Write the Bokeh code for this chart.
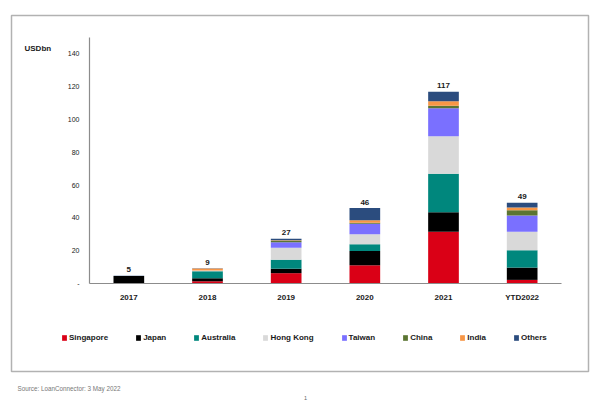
from bokeh.core.properties import value
from bokeh.embed import file_html
from bokeh.models import (BoxAnnotation, ColumnDataSource, FixedTicker, Label, Legend,
                          LegendItem, Range1d)
from bokeh.plotting import figure
from bokeh.resources import INLINE

FONT = "Liberation Sans"
INK = "#1a1a1a"
W, H = 599, 400

# loan volumes by borrower country, USD bn
years = ["2017", "2018", "2019", "2020", "2021", "YTD2022"]
singapore = [0.0, 1.4, 6.3, 11.1, 31.6, 2.2]
japan = [4.5, 1.8, 2.7, 8.7, 11.8, 7.5]
australia = [0.0, 4.2, 5.5, 4.1, 23.5, 10.5]
hong_kong = [0.0, 0.6, 7.3, 6.1, 22.9, 11.4]
taiwan = [0.0, 0.0, 3.4, 6.5, 17.0, 9.9]
china = [0.0, 0.0, 0.8, 0.5, 1.6, 3.2]
india = [0.0, 1.2, 0.4, 1.5, 2.8, 1.6]
others = [0.2, 0.1, 0.9, 7.5, 5.7, 2.9]
totals = [5, 9, 27, 46, 117, 49]
y_ticks = [0, 20, 40, 60, 80, 100, 120, 140]
y_max = 150

series = ["Singapore", "Japan", "Australia", "Hong Kong", "Taiwan", "China", "India", "Others"]
values = [singapore, japan, australia, hong_kong, taiwan, china, india, others]
colors = ["#DA0016", "#000000", "#00877D", "#D9D9D9", "#7A70FF", "#5B7532", "#F79646", "#2B4C7E"]

# one slot per year; the plotting area inside the page (pixels)
pos = [i + 0.5 for i in range(len(years))]
area_left, area_right, area_top, area_bottom = 89, 561, 37, 283
x_px = (area_right - area_left) / len(years)
y_px = (area_bottom - area_top) / y_max

data = {"x": pos, "year": years}
data.update(dict(zip(series, values)))
source = ColumnDataSource(data)

# the frame fills the whole page; axes are pinned inside it
p = figure(x_range=Range1d(-area_left / x_px, len(years) + (W - area_right) / x_px),
           y_range=Range1d(-(H - area_bottom) / y_px, y_max + area_top / y_px),
           width=W, height=H, output_backend="svg", toolbar_location=None, min_border=0)
p.outline_line_color = None
p.grid.visible = False

bars = p.vbar_stack(series, x="x", width=0.39, fill_color=colors, line_color=None, source=source)

tops = [sum(col) for col in zip(*values)]
p.text(x=pos, y=tops, text=[str(t) for t in totals], text_align="center",
       text_baseline="alphabetic", y_offset=-6, text_font=value(FONT),
       text_font_size="8px", text_font_style="bold", text_color=INK)

for ax in (p.xaxis[0], p.yaxis[0]):
    ax.fixed_location = 0
    ax.axis_line_color = "#8c8c8c"
    ax.axis_line_width = 1.2
    ax.major_tick_line_color = None
    ax.minor_tick_line_color = None
    ax.major_tick_out = 0
    ax.major_label_text_font = FONT
    ax.major_label_text_color = INK

p.yaxis.bounds = (0, y_max)
p.yaxis.ticker = FixedTicker(ticks=y_ticks)
p.yaxis.major_label_overrides = {0: "-"}
p.yaxis.major_label_text_font_size = "7px"
p.yaxis.major_label_standoff = 10

p.xaxis.bounds = (0, len(years))
p.xaxis.ticker = FixedTicker(ticks=pos)
p.xaxis.major_label_overrides = dict(zip(pos, years))
p.xaxis.major_label_text_font_size = "8px"
p.xaxis.major_label_text_font_style = "bold"
p.xaxis.major_label_standoff = 9

legend = Legend(items=[LegendItem(label=s, renderers=[r]) for s, r in zip(series, bars)],
                orientation="horizontal", location=(61, H - 342), glyph_width=6, glyph_height=7,
                label_standoff=2, spacing=27, padding=0, margin=0, label_width=10, label_height=10,
                border_line_color=None, background_fill_alpha=0,
                label_text_font=FONT, label_text_font_size="8px", label_text_font_style="bold",
                label_text_color=INK)
p.add_layout(legend)

p.add_layout(BoxAnnotation(left=11, right=588, top=H - 15, bottom=H - 371,
                           left_units="screen", right_units="screen",
                           top_units="screen", bottom_units="screen",
                           fill_color=None, line_color="black", line_width=1.5))

p.add_layout(Label(x=24, y=H - 48, x_units="screen", y_units="screen", text="USDbn",
                   text_baseline="middle", text_font=FONT, text_font_size="8px",
                   text_font_style="bold", text_color=INK))
p.add_layout(Label(x=17, y=H - 388, x_units="screen", y_units="screen",
                   text="Source: LoanConnector: 3 May 2022", text_baseline="middle",
                   text_font=FONT, text_font_size="6.3px", text_color="#777777"))
p.add_layout(Label(x=305, y=H - 397, x_units="screen", y_units="screen", text="1",
                   text_baseline="middle", text_align="center", text_font=FONT,
                   text_font_size="5.5px", text_color="#666666"))

open("out.html", "w").write(file_html(p, INLINE))
